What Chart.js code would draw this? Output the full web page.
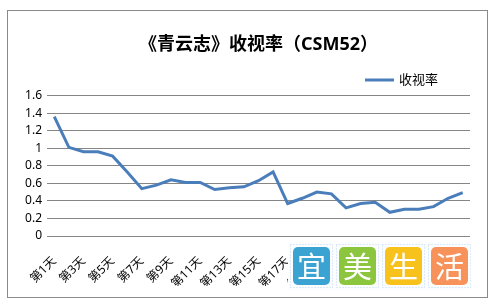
<!DOCTYPE html>
<html>
<head>
<meta charset="utf-8">
<script src="https://cdn.jsdelivr.net/npm/chart.js@4"></script>
<style>
  html, body { margin: 0; padding: 0; background: #fff; }
  canvas { display: block; }
</style>
</head>
<body>
<canvas id="rateChart" width="494" height="303"></canvas>
<script>
const titleText = "《青云志》收视率（CSM52）";
const seriesName = "收视率";
const days = [];
for (let d = 1; d <= 29; d++) days.push("第" + d + "天");
const ratings = [1.36, 1.01, 0.96, 0.96, 0.91, 0.73, 0.54, 0.58, 0.64, 0.61,
                 0.61, 0.53, 0.55, 0.56, 0.63, 0.73, 0.37, 0.43, 0.50, 0.48,
                 0.32, 0.37, 0.385, 0.27, 0.305, 0.305, 0.335, 0.43, 0.495];
const yTicks = [0, 0.2, 0.4, 0.6, 0.8, 1, 1.2, 1.4, 1.6];
const watermark = ["宜", "美", "生", "活"];

const lineColor = "#4a7ebb";
const fontFam = "'Noto Sans', 'Noto Sans CJK SC', sans-serif";

// white page + grey outer frame
const frame = {
  id: "frame",
  beforeDraw(chart) {
    const ctx = chart.ctx;
    ctx.save();
    ctx.fillStyle = "#fff";
    ctx.fillRect(0, 0, chart.width, chart.height);
    ctx.strokeStyle = "#8a8a8a";
    ctx.lineWidth = 1;
    ctx.strokeRect(7.5, 10.5, 480, 287);
    ctx.restore();
  }
};

// legend drawn at the upper right like the original
const sideLegend = {
  id: "sideLegend",
  afterDraw(chart) {
    const ctx = chart.ctx;
    ctx.save();
    ctx.strokeStyle = lineColor;
    ctx.lineWidth = 3;
    ctx.beginPath();
    ctx.moveTo(365, 80);
    ctx.lineTo(394, 80);
    ctx.stroke();
    ctx.fillStyle = "#000";
    ctx.font = "13px " + fontFam;
    ctx.textBaseline = "middle";
    ctx.fillText(chart.data.datasets[0].label, 399, 80);
    ctx.restore();
  }
};

// the 宜美生活 stamp in the lower right corner
const stamp = {
  id: "stamp",
  afterDraw(chart) {
    const ctx = chart.ctx;
    const cols = ["#3ba3d2", "#8cc63e", "#f8c21c", "#f6925a"];
    ctx.save();
    ctx.fillStyle = "#fbfdff";
    ctx.fillRect(288, 242, 182, 48);
    watermark.forEach((ch, i) => {
      const x = 293 + i * 46, y = 247;
      ctx.setLineDash([1, 2]);
      ctx.strokeStyle = "#bcd6ee";
      ctx.strokeRect(x - 2.5, y - 2.5, 42, 43);
      ctx.setLineDash([]);
      ctx.fillStyle = cols[i];
      ctx.beginPath();
      ctx.roundRect(x, y, 37, 38, 5);
      ctx.fill();
      ctx.fillStyle = "#fff";
      ctx.font = "29px 'Noto Sans CJK SC', sans-serif";
      ctx.textAlign = "center";
      ctx.textBaseline = "middle";
      ctx.fillText(ch, x + 18.5, y + 20);
    });
    ctx.restore();
  }
};

new Chart(document.getElementById("rateChart"), {
  type: "line",
  data: {
    labels: days,
    datasets: [{
      label: seriesName,
      data: ratings,
      borderColor: lineColor,
      borderWidth: 3,
      pointRadius: 0,
      tension: 0,
      fill: false
    }]
  },
  options: {
    responsive: false,
    animation: false,
    layout: { padding: { left: 7, right: 24, top: 0, bottom: 17 } },
    plugins: {
      legend: { display: false },
      tooltip: { enabled: false },
      title: {
        display: true,
        text: titleText,
        fullSize: false,
        color: "#000",
        font: { family: fontFam, size: 18, weight: "bold", lineHeight: 1.2 },
        padding: { top: 34, bottom: 40 }
      }
    },
    scales: {
      x: {
        offset: true,
        grid: { display: false },
        border: { display: false },
        ticks: {
          autoSkip: false,
          minRotation: 45,
          maxRotation: 45,
          padding: 10,
          color: "#000",
          font: { family: fontFam, size: 12 },
          callback(v, i) { return i % 2 === 0 ? this.getLabelForValue(v) : ""; }
        },
        afterFit(s) { s.height = 50; }
      },
      y: {
        min: 0,
        max: 1.6,
        border: { display: false },
        grid: { color: "#868686", drawTicks: false },
        afterBuildTicks(s) { s.ticks = yTicks.map(v => ({ value: v })); },
        ticks: {
          padding: 5,
          color: "#000",
          font: { family: fontFam, size: 12 },
          callback(v) { return String(Math.round(v * 10) / 10); }
        },
        afterFit(s) { s.width = 40; }
      }
    }
  },
  plugins: [frame, sideLegend, stamp]
});
</script>
</body>
</html>
